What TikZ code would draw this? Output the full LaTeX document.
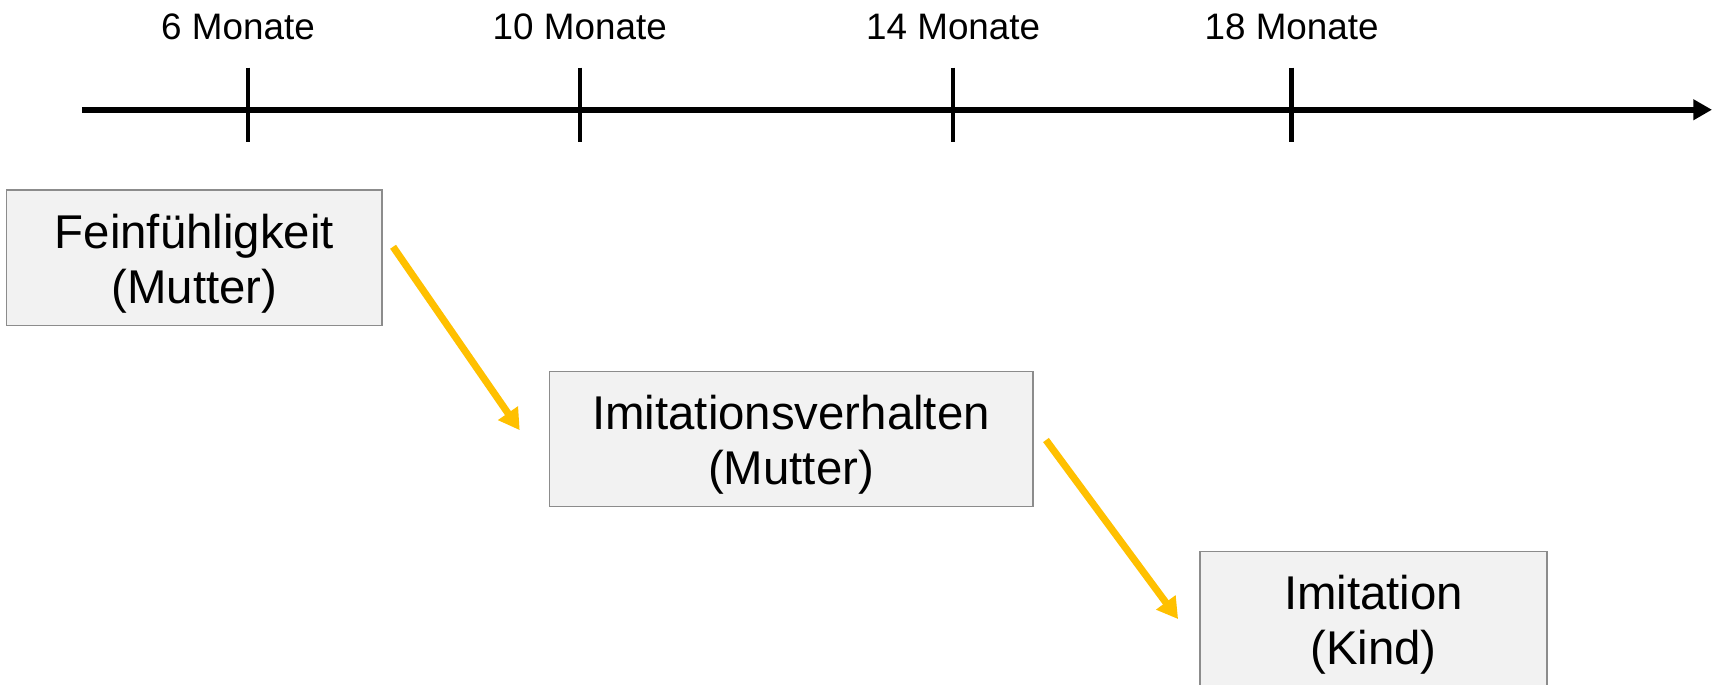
\documentclass[tikz,border=0pt]{standalone}
\usepackage{fontspec}
\setmainfont{Liberation Sans}
\usetikzlibrary{arrows.meta}

\definecolor{boxfill}{HTML}{F2F2F2}
\definecolor{boxline}{HTML}{8C8C8C}
\definecolor{linkyellow}{HTML}{FFC000}

\newcommand{\toppad}{\rule{0pt}{24pt}}

\begin{document}
\begin{tikzpicture}[x=0.02cm,y=-0.02cm,
    phase/.style={draw=boxline,fill=boxfill,line width=0.7pt,inner sep=0pt,outer sep=0pt,
        minimum height=2.48cm,align=center,font=\fontsize{24.7}{28.5}\selectfont},
    month/.style={anchor=base,font=\fontsize{19.2}{23}\selectfont},
    tick/.style={line width=0.08cm},
    link/.style={draw=linkyellow,line width=0.13cm,-{Triangle[length=3.8mm,width=4.2mm]}}]
    \useasboundingbox (0,0) rectangle (1568,627);

    % time axis
    \coordinate (axisstart) at (75,100.5);
    \coordinate (axisend) at (1568,100.5);
    \draw[line width=0.115cm,-{Triangle[length=3.4mm,width=3.6mm]}] (axisstart) -- (axisend);

    \draw[tick] (227,62) -- (227,130);
    \draw[tick] (531,62) -- (531,130);
    \draw[tick] (873,62) -- (873,130);
    \draw[tick] (1183,62) -- (1183,130);

    \node[month] (m6) at (218,36) {6 Monate};
    \node[month] (m10) at (531,36) {10 Monate};
    \node[month] (m14) at (873,36) {14 Monate};
    \node[month] (m18) at (1183,36) {18 Monate};

    % phases
    \node[phase,minimum width=6.88cm] (feinfuehl) at (178,236) {\toppad Feinfühligkeit\\(Mutter)};
    \node[phase,minimum width=8.86cm] (imitverh) at (724.5,402) {\toppad Imitationsverhalten\\(Mutter)};
    \node[phase,minimum width=6.36cm] (imitkind) at (1258,567) {\toppad Imitation\\(Kind)};

    \coordinate (l1s) at (360,226);
    \coordinate (l1e) at (476,394);
    \coordinate (l2s) at (958,403);
    \coordinate (l2e) at (1079,567);
    \draw[link] (l1s) -- (l1e);
    \draw[link] (l2s) -- (l2e);
\end{tikzpicture}
\end{document}
